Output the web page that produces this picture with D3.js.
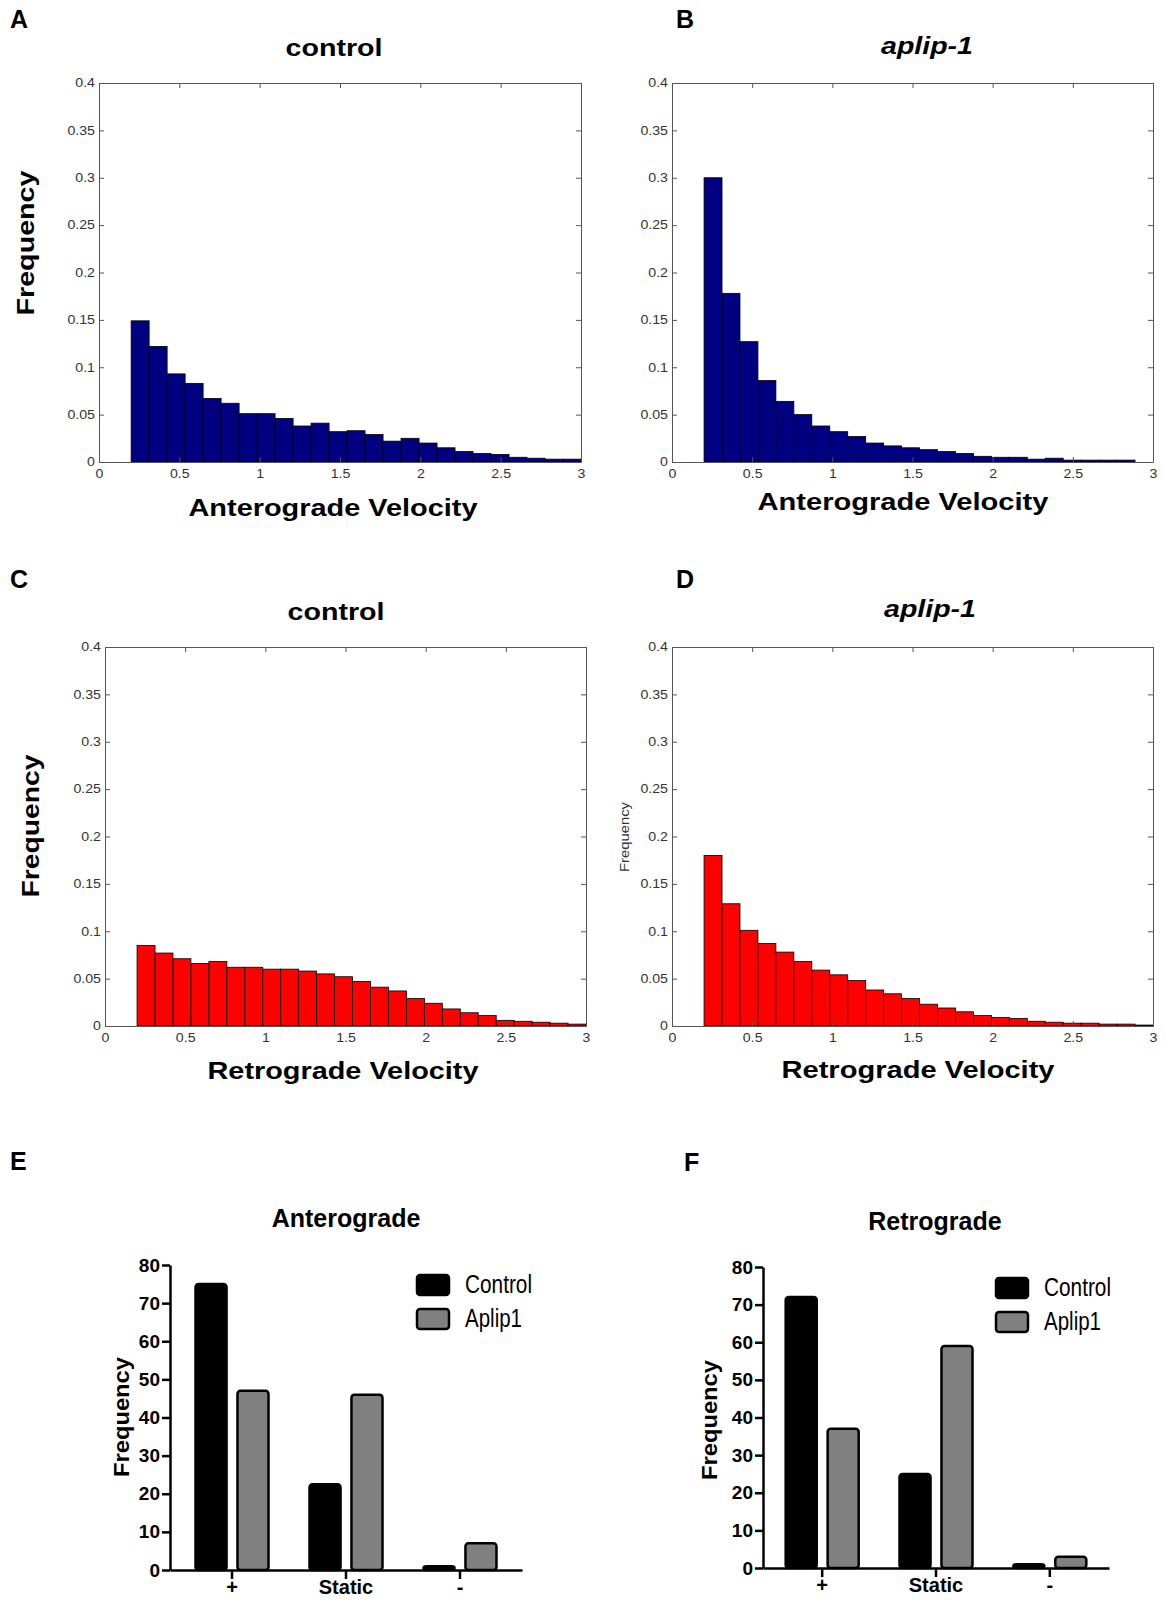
<!DOCTYPE html>
<html>
<head>
<meta charset="utf-8">
<script src="https://cdn.jsdelivr.net/npm/d3@7"></script>
<style>
  body { margin: 0; background: #fff; }
  svg { display: block; font-family: Arial, "Liberation Sans", sans-serif; }
</style>
</head>
<body>
<svg id="fig" width="1165" height="1602"></svg>
<script>
// histogram bins: 25 bins of width 0.112 starting at 0.2
var binStart = 0.2, binWidth = 0.112;
var histXTicks = [0, 0.5, 1, 1.5, 2, 2.5, 3];
var histYTicks = [0, 0.05, 0.1, 0.15, 0.2, 0.25, 0.3, 0.35, 0.4];

var anteroControl = [0.149, 0.122, 0.093, 0.083, 0.067, 0.062, 0.051, 0.051, 0.046, 0.038,
  0.041, 0.032, 0.033, 0.029, 0.022, 0.025, 0.020, 0.015, 0.011, 0.009,
  0.008, 0.005, 0.004, 0.003, 0.003];
var anteroAplip = [0.300, 0.178, 0.127, 0.086, 0.064, 0.050, 0.038, 0.032, 0.027, 0.020,
  0.017, 0.015, 0.013, 0.011, 0.009, 0.006, 0.005, 0.005, 0.003, 0.004,
  0.002, 0.002, 0.002, 0.002, 0];
var retroControl = [0.085, 0.077, 0.071, 0.066, 0.068, 0.062, 0.062, 0.060, 0.060, 0.058,
  0.055, 0.052, 0.047, 0.041, 0.037, 0.029, 0.024, 0.018, 0.014, 0.011,
  0.006, 0.005, 0.004, 0.003, 0.002];
var retroAplip = [0.180, 0.129, 0.101, 0.087, 0.078, 0.068, 0.059, 0.054, 0.048, 0.038,
  0.034, 0.029, 0.023, 0.019, 0.015, 0.011, 0.009, 0.008, 0.005, 0.004,
  0.003, 0.003, 0.002, 0.002, 0.001];

// bar charts E / F
var directions = ['+', 'Static', '-'];
var groups = ['Control', 'Aplip1'];
var groupColors = ['#000000', '#808080'];
var countYTicks = [0, 10, 20, 30, 40, 50, 60, 70, 80];
var anteroCounts = { Control: [75, 22.5, 1], Aplip1: [47, 46, 7] };
var retroCounts = { Control: [72, 25, 1], Aplip1: [37, 59, 3] };

var svg = d3.select('#fig');

var fit = function(sel, len) {
  sel.attr('textLength', len).attr('lengthAdjust', 'spacingAndGlyphs');
  return sel;
};

// matlab tick labels come out a bit wider than arial
var widen = function(sel, k) {
  sel.each(function() {
    var l = this.getComputedTextLength();
    d3.select(this).attr('textLength', l * k).attr('lengthAdjust', 'spacingAndGlyphs');
  });
};

var label = function(txt, x, y) {
  svg.append('text').attr('x', x).attr('y', y)
    .style('font-size', '25px').style('font-weight', 'bold').text(txt);
};

var histogram = function(p) {
  var x = d3.scaleLinear().domain([0, 3]).range([p.left, p.right]);
  var y = d3.scaleLinear().domain([0, 0.4]).range([p.bottom, p.top]);
  var g = svg.append('g');

  var bins = p.values.map(function(v, i) {
    return { x0: binStart + i * binWidth, x1: binStart + (i + 1) * binWidth, v: v };
  });

  g.selectAll('rect.bar').data(bins).enter().append('rect')
    .attr('class', 'bar')
    .attr('x', function(d) { return x(d.x0); })
    .attr('width', function(d) { return x(d.x1) - x(d.x0); })
    .attr('y', function(d) { return y(d.v); })
    .attr('height', function(d) { return y(0) - y(d.v); })
    .style('fill', p.color)
    .style('stroke', '#000')
    .style('stroke-width', 0.8);

  var axisStyle = function(a) {
    a.selectAll('path, line').style('stroke', '#555').style('stroke-width', 1);
    a.selectAll('text').style('fill', '#333').style('font-size', '12px').call(widen, 1.18);
  };

  g.append('g').attr('transform', 'translate(0,' + p.bottom + ')')
    .call(d3.axisBottom(x).tickValues(histXTicks).tickSizeInner(-5).tickSizeOuter(0)
      .tickPadding(7).tickFormat(String))
    .call(axisStyle);
  g.append('g').attr('transform', 'translate(0,' + p.top + ')')
    .call(d3.axisTop(x).tickValues(histXTicks).tickSizeInner(-5).tickSizeOuter(0).tickFormat(''))
    .call(axisStyle);
  g.append('g').attr('transform', 'translate(' + p.left + ',0)')
    .call(d3.axisLeft(y).tickValues(histYTicks).tickSizeInner(-5).tickSizeOuter(0)
      .tickPadding(4).tickFormat(String))
    .call(axisStyle);
  g.append('g').attr('transform', 'translate(' + p.right + ',0)')
    .call(d3.axisRight(y).tickValues(histYTicks).tickSizeInner(-5).tickSizeOuter(0).tickFormat(''))
    .call(axisStyle);

  var t = svg.append('text').attr('x', p.titleX).attr('y', p.titleY)
    .attr('text-anchor', 'middle')
    .style('font-size', '24px').style('font-weight', 'bold')
    .style('font-style', p.italic ? 'italic' : 'normal')
    .text(p.title);
  fit(t, p.titleLen);

  var xl = svg.append('text').attr('x', p.xLabelX).attr('y', p.xLabelY)
    .attr('text-anchor', 'middle')
    .style('font-size', '24px').style('font-weight', 'bold')
    .text(p.xLabel);
  fit(xl, p.xLabelLen);

  if (p.yLabel) {
    var yl = svg.append('text')
      .attr('transform', 'translate(' + p.yLabelX + ',' + p.yLabelY + ') rotate(-90)')
      .attr('text-anchor', 'middle')
      .style('font-size', p.yLabelSize + 'px')
      .style('font-weight', p.yLabelBold ? 'bold' : 'normal')
      .style('fill', p.yLabelBold ? '#000' : '#333')
      .text('Frequency');
    fit(yl, p.yLabelLen);
  }
};

histogram({ values: anteroControl, color: '#000080', left: 99, right: 581, top: 83, bottom: 462,
  title: 'control', titleX: 334, titleY: 56, titleLen: 97,
  xLabel: 'Anterograde Velocity', xLabelX: 333, xLabelY: 516, xLabelLen: 289,
  yLabel: true, yLabelBold: true, yLabelSize: 24, yLabelX: 34, yLabelY: 243, yLabelLen: 145 });
histogram({ values: anteroAplip, color: '#000080', left: 672, right: 1153, top: 83, bottom: 462,
  title: 'aplip-1', italic: true, titleX: 927, titleY: 54, titleLen: 92,
  xLabel: 'Anterograde Velocity', xLabelX: 903, xLabelY: 510, xLabelLen: 291 });
histogram({ values: retroControl, color: '#ff0000', left: 105, right: 586, top: 647, bottom: 1026,
  title: 'control', titleX: 336, titleY: 620, titleLen: 97,
  xLabel: 'Retrograde Velocity', xLabelX: 343, xLabelY: 1079, xLabelLen: 271,
  yLabel: true, yLabelBold: true, yLabelSize: 24, yLabelX: 39, yLabelY: 826, yLabelLen: 143 });
histogram({ values: retroAplip, color: '#ff0000', left: 672, right: 1153, top: 647, bottom: 1026,
  title: 'aplip-1', italic: true, titleX: 930, titleY: 617, titleLen: 92,
  xLabel: 'Retrograde Velocity', xLabelX: 918, xLabelY: 1078, xLabelLen: 273,
  yLabel: true, yLabelBold: false, yLabelSize: 13, yLabelX: 629, yLabelY: 837, yLabelLen: 70 });

label('A', 10, 28);
label('B', 676, 28);
label('C', 10, 588);
label('D', 676, 588);

var barChart = function(p) {
  var x = d3.scaleBand().domain(directions).range([p.left, p.right])
    .paddingInner(0).paddingOuter(p.outer);
  var inner = d3.scaleBand().domain(groups).range([-36.5, 36.5]).paddingInner(0.26);
  var y = d3.scaleLinear().domain([0, 80]).range([p.bottom, p.top]);
  var g = svg.append('g');

  var cells = [];
  groups.forEach(function(grp, gi) {
    directions.forEach(function(dir, di) {
      cells.push({ dir: dir, grp: grp, color: groupColors[gi], v: p.counts[grp][di] });
    });
  });

  g.selectAll('rect.bar').data(cells).enter().append('rect')
    .attr('class', 'bar')
    .attr('x', function(d) { return x(d.dir) + x.bandwidth() / 2 + inner(d.grp); })
    .attr('width', inner.bandwidth())
    .attr('y', function(d) { return y(d.v); })
    .attr('height', function(d) { return y(0) - y(d.v); })
    .attr('rx', 3)
    .style('fill', function(d) { return d.color; })
    .style('stroke', '#000')
    .style('stroke-width', 2.5);

  g.append('g').attr('transform', 'translate(0,' + p.bottom + ')')
    .call(d3.axisBottom(x).tickSizeInner(9).tickSizeOuter(0).tickPadding(1))
    .call(function(a) {
      a.selectAll('path, line').style('stroke', '#000').style('stroke-width', 2.5);
      a.selectAll('text').style('font-size', '20px').style('font-weight', 'bold')
        .style('font-family', 'Arial, "Liberation Sans", sans-serif');
    });
  g.append('g').attr('transform', 'translate(' + p.left + ',0)')
    .call(d3.axisLeft(y).tickValues(countYTicks).tickSizeInner(8).tickSizeOuter(0).tickPadding(2))
    .call(function(a) {
      a.selectAll('path, line').style('stroke', '#000').style('stroke-width', 2.5);
      a.selectAll('text').style('font-size', '19px').style('font-weight', 'bold')
        .style('font-family', 'Arial, "Liberation Sans", sans-serif');
    });

  svg.append('text').attr('x', p.titleX).attr('y', p.titleY).attr('text-anchor', 'middle')
    .style('font-size', '25px').style('font-weight', 'bold').text(p.title);

  var yl = svg.append('text')
    .attr('transform', 'translate(' + p.yLabelX + ',' + p.yLabelY + ') rotate(-90)')
    .attr('text-anchor', 'middle')
    .style('font-size', '22px').style('font-weight', 'bold')
    .text('Frequency');
  fit(yl, 120);

  var lg = svg.append('g').attr('transform', 'translate(' + p.legendX + ',' + p.legendY + ')');
  var items = lg.selectAll('g').data(groups).enter().append('g')
    .attr('transform', function(d, i) { return 'translate(0,' + i * 34 + ')'; });
  items.append('rect')
    .attr('width', 32).attr('height', 20).attr('rx', 3)
    .style('fill', function(d, i) { return groupColors[i]; })
    .style('stroke', '#000').style('stroke-width', 2.5);
  items.append('text').attr('x', 48).attr('y', 18)
    .style('font-size', '25px')
    .attr('textLength', function(d) { return d === 'Control' ? 67 : 57; })
    .attr('lengthAdjust', 'spacingAndGlyphs')
    .text(function(d) { return d; });
};

barChart({ counts: anteroCounts, left: 170, right: 522, top: 1265, bottom: 1570, outer: 0.044,
  title: 'Anterograde', titleX: 346, titleY: 1227, yLabelX: 129, yLabelY: 1417,
  legendX: 417, legendY: 1275 });
barChart({ counts: retroCounts, left: 763, right: 1109, top: 1267, bottom: 1568, outer: 0.02,
  title: 'Retrograde', titleX: 935, titleY: 1230, yLabelX: 717, yLabelY: 1420,
  legendX: 996, legendY: 1278 });

label('E', 10, 1170);
label('F', 684, 1171);
</script>
</body>
</html>
